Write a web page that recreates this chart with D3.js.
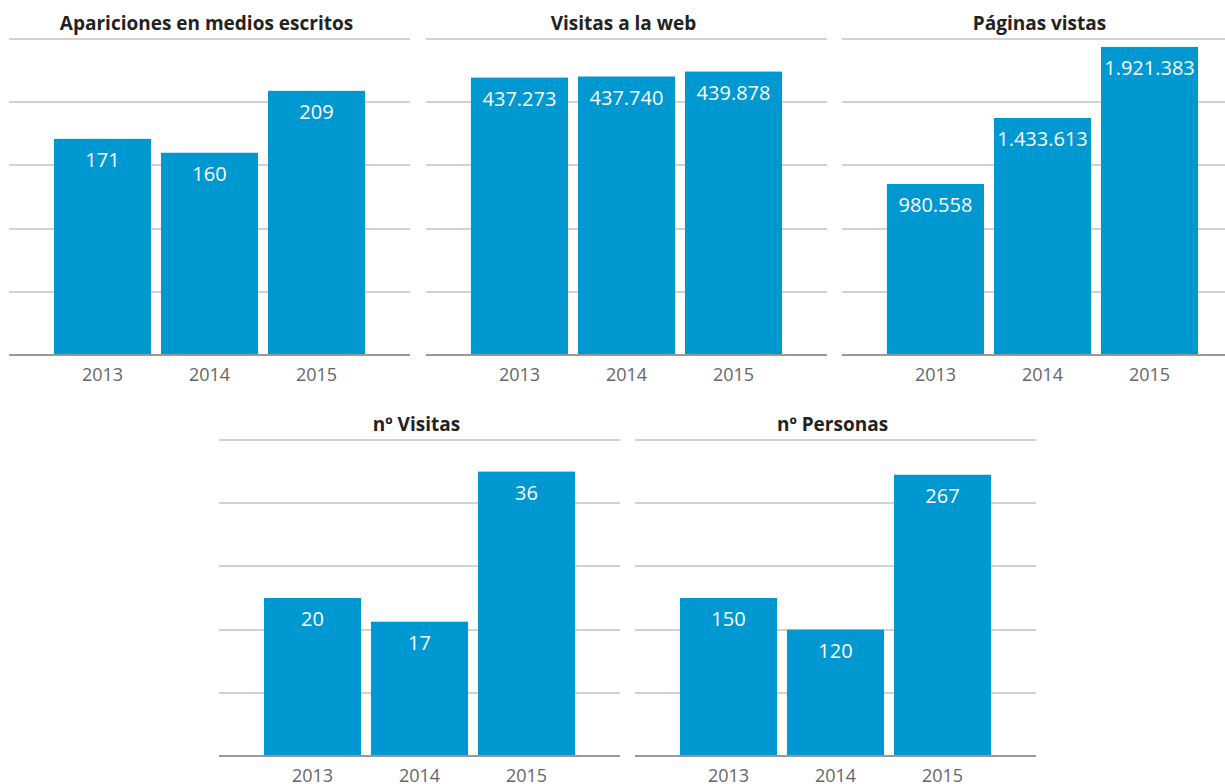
<!DOCTYPE html>
<html>
<head>
<meta charset="utf-8">
<script src="https://cdn.jsdelivr.net/npm/d3@7"></script>
<style>
  body { margin: 0; background: #fff; }
  svg { display: block; font-family: "Open Sans", "Noto Sans", sans-serif; }
</style>
</head>
<body>
<svg id="chart" width="1225" height="784"></svg>
<script>
// datos
const years = ["2013", "2014", "2015"];
const titles = ["Apariciones en medios escritos", "Visitas a la web", "Páginas vistas", "nº Visitas", "nº Personas"];
const apariciones = [171, 160, 209];
const visitasWeb = [437273, 437740, 439878];
const paginasVistas = [980558, 1433613, 1921383];
const numVisitas = [20, 17, 36];
const numPersonas = [150, 120, 267];
// dominios del eje y
const domains = [[0, 250], [317000, 454000], [-194000, 1976000], [0, 40], [0, 300]];

const series = [apariciones, visitasWeb, paginasVistas, numVisitas, numPersonas];

const svg = d3.select("#chart");
const fmt = d3.formatLocale({ decimal: ",", thousands: ".", grouping: [3], currency: ["", "€"] }).format(",d");

const panelW = 401, plotH = 316;
const layout = [
  { x: 9, top: 39 },
  { x: 426, top: 39 },
  { x: 842, top: 39 },
  { x: 219, top: 440 },
  { x: 635, top: 440 }
];

series.forEach((values, i) => {
  const L = layout[i];
  const g = svg.append("g").attr("transform", `translate(${L.x},${L.top})`);

  const x = d3.scaleBand()
    .domain(years)
    .range([0, panelW])
    .paddingInner(0.093)
    .paddingOuter(0.42);

  const y = d3.scaleLinear()
    .domain(domains[i])
    .range([plotH, 0]);

  // lineas de la cuadricula
  const d0 = domains[i][0], d1 = domains[i][1];
  const grid = d3.range(1, 6).map(k => d0 + k * (d1 - d0) / 5);
  g.append("g")
    .selectAll("line")
    .data(grid)
    .join("line")
    .attr("x1", 0)
    .attr("x2", panelW)
    .attr("y1", d => Math.round(y(d)))
    .attr("y2", d => Math.round(y(d)))
    .attr("stroke", "#d2d2d2")
    .attr("stroke-width", 2);

  g.append("text")
    .attr("x", panelW / 2 - 3)
    .attr("y", -9)
    .attr("text-anchor", "middle")
    .attr("font-size", "19px")
    .attr("font-weight", "bold")
    .attr("fill", "#222")
    .text(titles[i]);

  g.append("g")
    .selectAll("rect")
    .data(values)
    .join("rect")
    .attr("x", (d, j) => x(years[j]))
    .attr("width", x.bandwidth())
    .attr("y", d => y(d))
    .attr("height", d => plotH - y(d))
    .attr("fill", "#0098d1");

  g.append("g")
    .selectAll("text")
    .data(values)
    .join("text")
    .attr("x", (d, j) => x(years[j]) + x.bandwidth() / 2)
    .attr("y", d => y(d) + 28)
    .attr("text-anchor", "middle")
    .attr("font-size", "20px")
    .attr("fill", "#fff")
    .text(d => fmt(d));

  // eje x
  const axis = g.append("g")
    .attr("transform", `translate(0,${plotH})`)
    .call(d3.axisBottom(x).tickSize(0).tickPadding(10));
  axis.select(".domain").attr("stroke", "#999").attr("stroke-width", 2).attr("d", `M0,0H${panelW}`);
  axis.selectAll("text")
    .attr("font-size", "18px")
    .attr("font-family", "\"Open Sans\", sans-serif")
    .attr("fill", "#666")
    .attr("dy", "0.9em");
});
</script>
</body>
</html>
